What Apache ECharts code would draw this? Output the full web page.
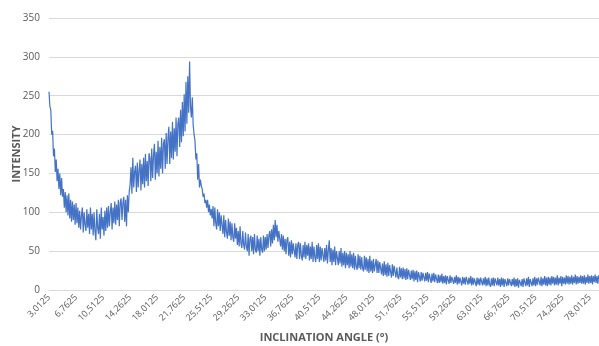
<!DOCTYPE html>
<html><head><meta charset="utf-8">
<script src="https://cdn.jsdelivr.net/npm/echarts@6/dist/echarts.min.js"></script>
<style>html,body{margin:0;padding:0;background:#fff}#c{width:599px;height:346px}</style>
</head><body><div id="c"></div>
<script>
// Angle sampling (degrees): first angle and step between samples
var angleStart = 3.0125;
var angleStep = 0.125;
// Intensity values, one per sample (16 samples = 2 degrees per row)
var intensity = [
255,236,232,200,205,172,182,152,168,140,156,130,150,122,144,120,
130,106,126,100,122,96,124,92,116,88,114,90,110,84,112,86,
106,80,102,78,96,106,74,100,84,76,104,80,98,72,106,78,
98,70,100,76,64,104,80,72,98,66,106,78,94,70,102,76,
106,80,108,82,100,112,78,106,86,114,84,110,90,116,82,112,
118,90,112,120,88,116,82,122,100,126,136,158,124,170,132,152,
160,126,164,132,154,168,128,162,136,170,132,175,140,166,134,176,
170,140,182,144,174,188,142,178,150,192,146,184,156,196,150,188,
194,156,202,162,196,210,162,204,170,216,168,208,178,222,172,214,
222,184,232,190,242,198,252,204,268,214,275,228,294,236,222,248,
212,200,192,168,176,142,162,132,142,134,130,120,124,112,116,106,
116,100,110,96,104,92,108,82,106,86,78,104,82,100,76,96,
94,72,96,68,90,74,66,92,70,88,64,86,68,62,86,66,
80,58,76,56,82,60,54,76,58,52,74,56,50,72,44,66,
70,50,68,46,72,52,48,70,50,66,44,68,52,48,70,50,
68,52,72,54,70,76,56,78,60,84,64,90,68,84,62,76,
76,56,72,52,70,50,66,46,64,68,44,62,42,64,46,60,
62,42,60,40,58,62,40,60,44,38,58,42,62,40,58,44,
60,38,56,40,62,36,56,42,36,58,40,60,36,56,38,54,
56,36,54,38,58,34,52,64,36,54,32,52,36,56,32,50,
52,32,50,34,54,30,48,32,50,28,48,32,46,28,50,30,
46,28,48,26,44,30,26,46,28,44,26,42,28,24,44,26,
42,24,40,22,44,24,38,22,40,24,22,40,22,38,22,36,
36,20,34,18,37,19,33,17,35,18,32,34,16,33,18,31,
31,16,29,17,14,30,16,28,14,29,15,27,13,28,14,26,
27,13,25,14,26,11,24,13,25,10,23,24,11,23,12,22,
23,11,22,12,23,10,21,22,9,21,11,22,10,20,21,9,
20,9,19,10,21,8,18,9,19,7,18,17,8,19,9,17,
18,8,17,9,19,7,17,8,16,18,6,17,8,16,7,17,
17,7,16,8,18,6,16,7,15,17,5,16,7,15,6,16,
16,6,15,7,17,5,15,6,16,7,4,15,6,16,5,15,
15,6,16,6,14,4,16,6,15,4,14,16,5,15,6,14,
15,5,14,6,16,4,14,5,15,3,13,15,5,14,4,15,
16,5,15,6,17,4,14,16,5,15,6,17,5,15,7,16,
16,6,17,5,15,7,18,6,16,5,17,7,16,6,18,8,
17,6,16,7,19,6,16,8,18,5,17,8,16,7,19,8,
18,7,17,8,19,7,17,9,20,7,18,8,17,9,19,8,
18,8,19,7,17,9,20,8,18,9,19,7,18,10,20,9,
18,8,19
];
// Axis settings
var xMin = 3.0125, xMax = 79.3, xInterval = 3.75;
var yMin = 0, yMax = 350, yInterval = 50;
var xTitle = 'INCLINATION ANGLE (°)';
var yTitle = 'INTENSITY';

var points = intensity.map(function (v, i) { return [angleStart + i * angleStep, v]; });

var chart = echarts.init(document.getElementById('c'), null, {renderer: 'canvas'});
var font = '"Open Sans", "Liberation Sans", sans-serif';
chart.setOption({
  animation: false,
  grid: {left: 49, right: 0, top: 18, bottom: 56, containLabel: false, outerBoundsMode: 'none'},
  xAxis: {
    type: 'value', min: xMin, max: xMax, interval: xInterval,
    name: xTitle, nameLocation: 'middle', nameGap: 42, nameMoveOverlap: false,
    nameTextStyle: {fontFamily: font, fontSize: 11, fontWeight: 'bold', color: '#595959'},
    axisLine: {show: true, lineStyle: {color: '#d9d9d9'}},
    axisTick: {show: false},
    splitLine: {show: false},
    axisLabel: {
      rotate: 45, fontFamily: font, fontSize: 9, color: '#595959', margin: 6,
      showMaxLabel: false, hideOverlap: false,
      formatter: function (v) {
        var k = (v - xMin) / xInterval;
        if (Math.abs(k - Math.round(k)) > 1e-6) return '';
        return v.toFixed(4).replace('.', ',');
      }
    }
  },
  yAxis: {
    type: 'value', min: yMin, max: yMax, interval: yInterval,
    name: yTitle, nameLocation: 'middle', nameGap: 27, nameMoveOverlap: false,
    nameTextStyle: {fontFamily: font, fontSize: 11, fontWeight: 'bold', color: '#595959'},
    axisLine: {show: false}, axisTick: {show: false},
    splitLine: {lineStyle: {color: '#d9d9d9', width: 1}},
    axisLabel: {fontFamily: font, fontSize: 10, color: '#595959', margin: 9}
  },
  series: [{
    type: 'line', data: points, showSymbol: false, symbol: 'none',
    lineStyle: {color: '#4472C4', width: 1.2}, itemStyle: {color: '#4472C4'}
  }]
});
</script></body></html>
